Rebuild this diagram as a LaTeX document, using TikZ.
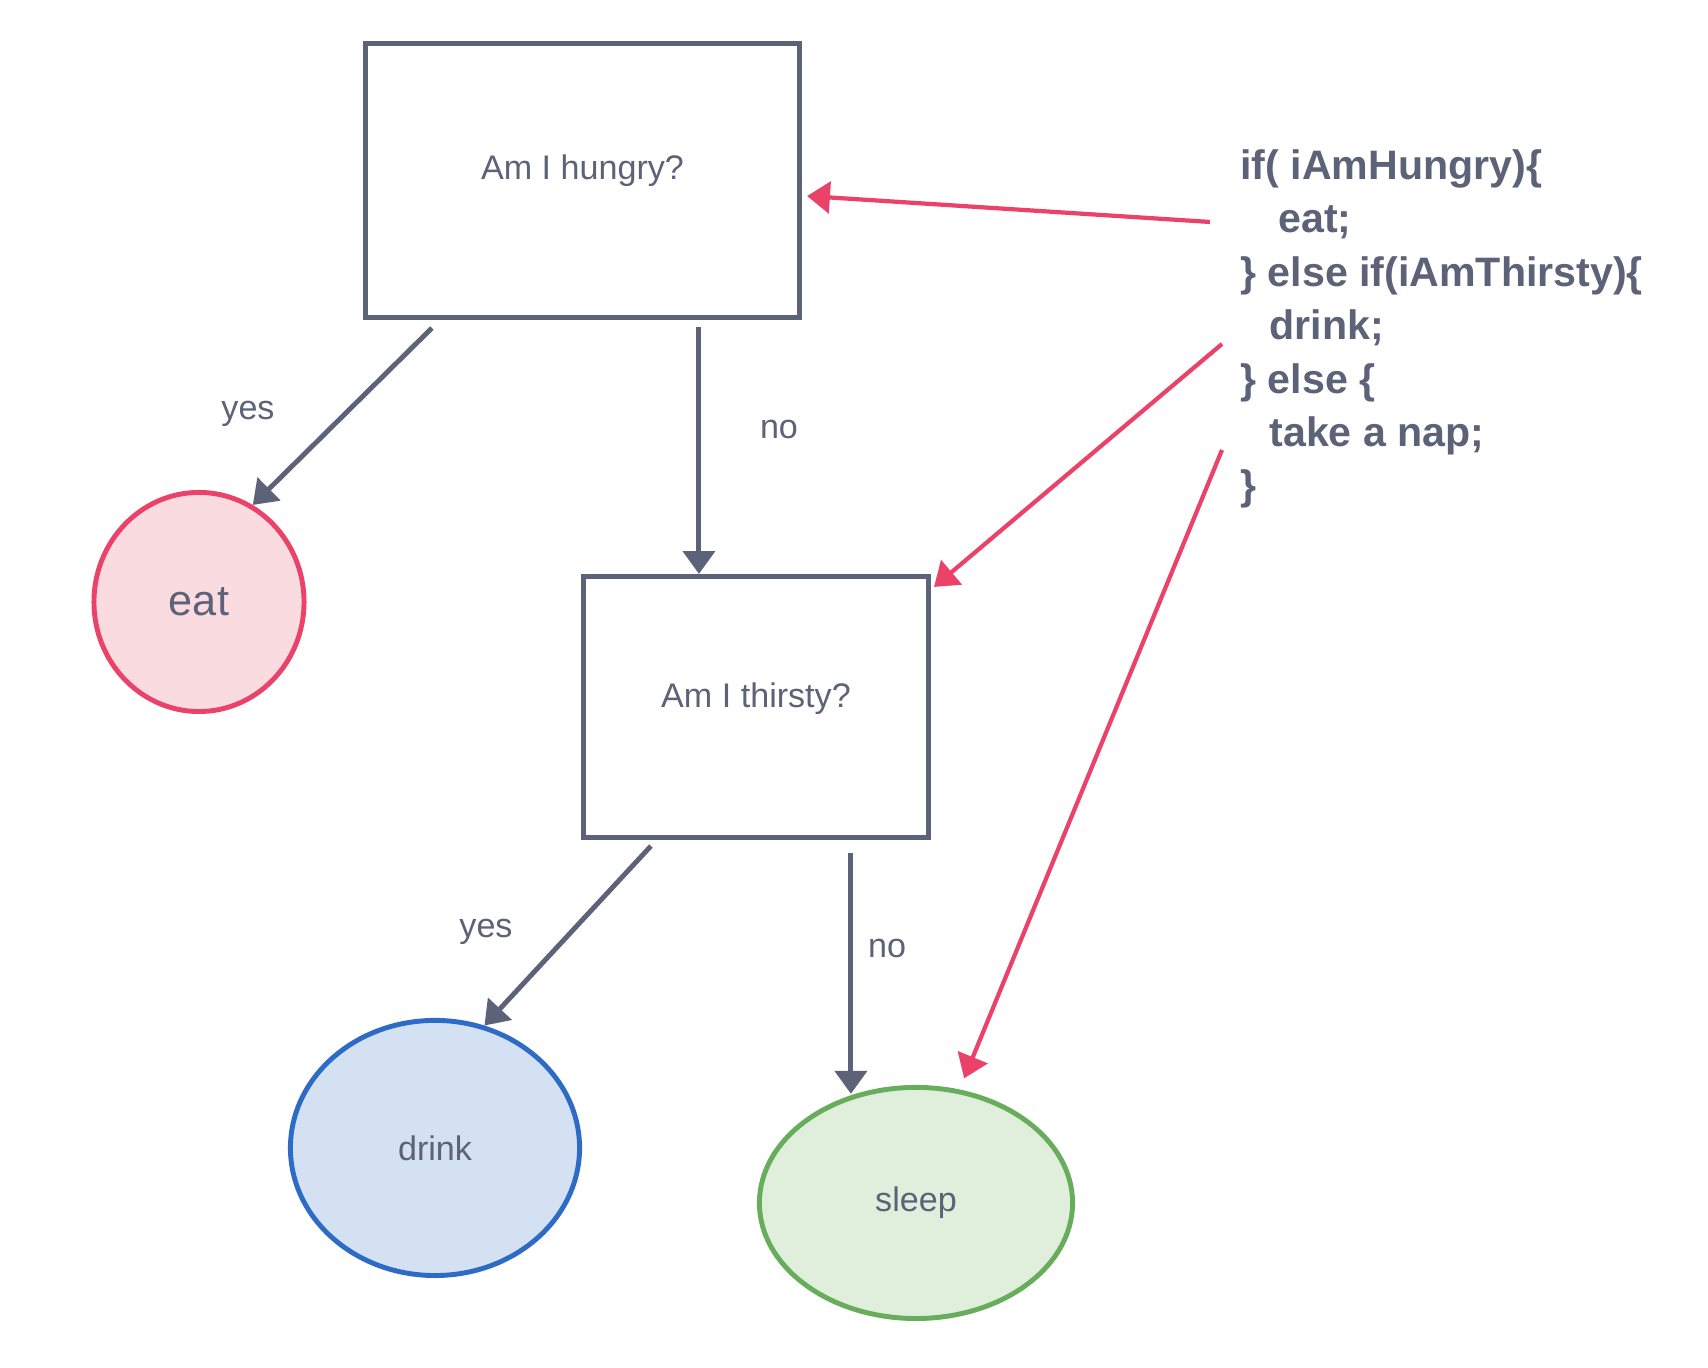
\documentclass[tikz,border=0pt]{standalone}
\usepackage{fontspec}
\setmainfont{Liberation Sans}
\usepackage{xcolor}
\usepackage{tikz}
\usetikzlibrary{arrows.meta,shapes.geometric}

\definecolor{slate}{HTML}{5C6277}
\definecolor{rose}{HTML}{EA4268}
\definecolor{rosefill}{HTML}{FADBE0}
\definecolor{sky}{HTML}{2E6BC6}
\definecolor{skyfill}{HTML}{D4E1F2}
\definecolor{leaf}{HTML}{67AD5B}
\definecolor{leaffill}{HTML}{E0EFDC}

\begin{document}
\begin{tikzpicture}[x=0.01cm,y=0.01cm,->,>={Triangle[length=6.5pt,width=9pt]},
  line width=1.4pt,color=slate,text=slate,
  question/.style={rectangle,draw=slate,line width=1.4pt,font=\fontsize{9.7}{12}\selectfont},
  outcome/.style={ellipse,line width=1.4pt,font=\fontsize{9.7}{12}\selectfont},
  answer/.style={font=\fontsize{9.7}{12}\selectfont},
  pointer/.style={draw=rose,line width=1.2pt}]

\useasboundingbox (0,0) rectangle (1708,1368);

\node[question, minimum width=4.34cm, minimum height=2.74cm, text depth=7.7pt] (hungry) at (582.5,1187.5) {Am I hungry?};
\node[question, minimum width=3.45cm, minimum height=2.61cm, text depth=6.6pt] (thirsty) at (756,661) {Am I thirsty?};

\node[outcome, draw=rose, fill=rosefill, minimum width=2.1cm, minimum height=2.19cm,
  font=\fontsize{12.3}{15}\selectfont] (eat) at (199,766) {eat};
\node[outcome, draw=sky, fill=skyfill, minimum width=2.89cm, minimum height=2.55cm] (drink) at (435,220) {drink};
\node[outcome, draw=leaf, fill=leaffill, minimum width=3.13cm, minimum height=2.31cm] (sleep) at (916,165) {sleep};

\node[answer] (yes_1) at (248,954) {yes};
\node[answer] (no_1) at (779,938) {no};
\node[answer] (yes_2) at (486,436) {yes};
\node[answer] (no_2) at (887,419) {no};

\node[align=left, anchor=west, inner sep=0pt, font=\bfseries\fontsize{11.7}{15.2}\selectfont] (code) at (1238,1039)
  {if( iAmHungry)\{\\
   \hspace*{0.38cm}eat;\\
   \} else if(iAmThirsty)\{\\
   \hspace*{0.29cm}drink;\\
   \} else \{\\
   \hspace*{0.29cm}take a nap;\\
   \}};

\coordinate (if_hungry) at (1210,1146);
\coordinate (if_thirsty) at (1222,1024);
\coordinate (if_else) at (1222,918);
\coordinate (thirsty_no) at ([shift={(270,-13)}]thirsty.south west);

\path
  ([shift={(69,-8)}]hungry.south west) edge (eat.61)
  ([shift={(118,-7)}]thirsty.north west |- hungry.south) edge ([shift={(118,0)}]thirsty.north west)

  ([shift={(70,-6)}]thirsty.south west) edge (drink.68)
  (thirsty_no) edge (thirsty_no |- sleep.119)

  (if_hungry) edge [pointer] ([shift={(5,124)}]hungry.south east)
  (if_thirsty) edge [pointer] ([shift={(3,-13)}]thirsty.north east)
  (if_else) edge [pointer, shorten >=0.12cm] (sleep.69)
;
\end{tikzpicture}
\end{document}
